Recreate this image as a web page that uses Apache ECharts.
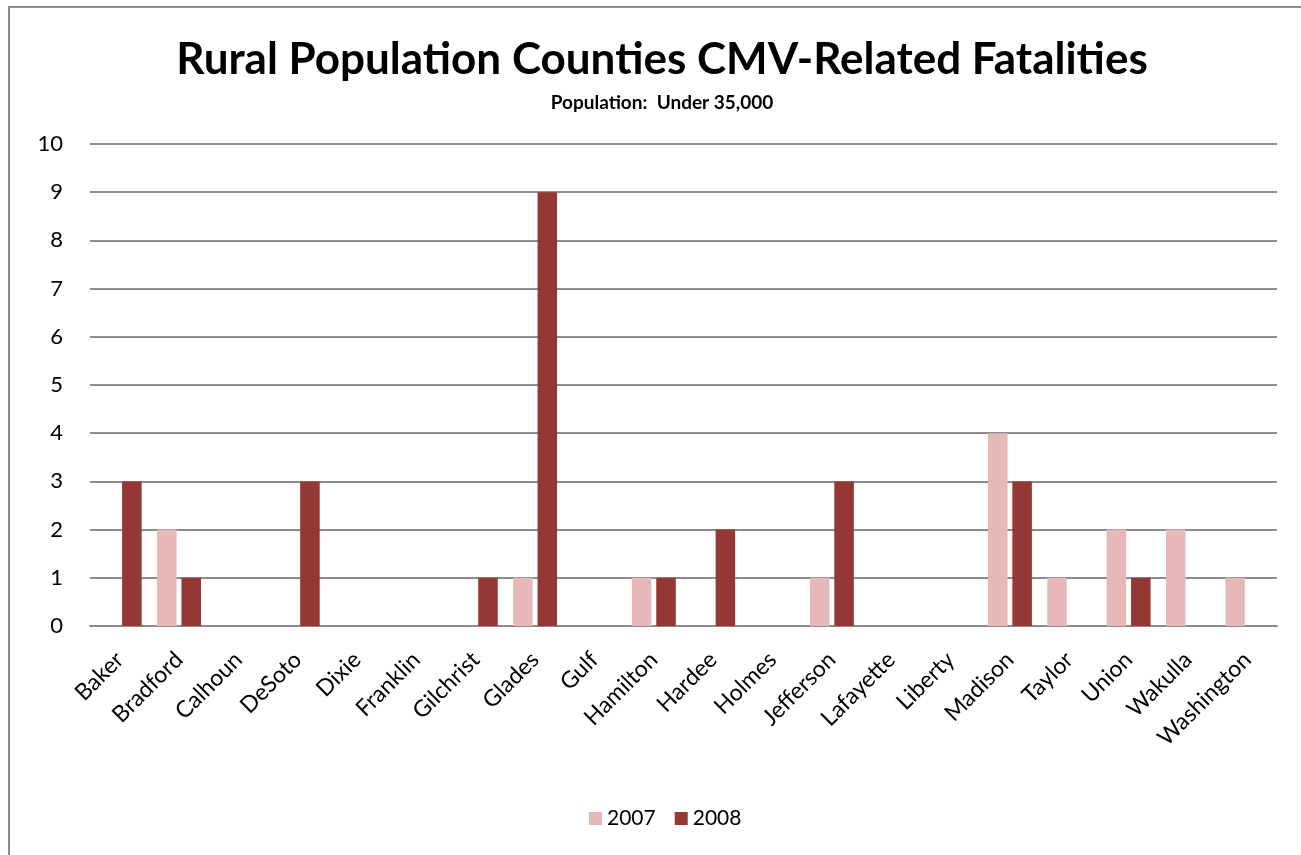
<!DOCTYPE html>
<html>
<head>
<meta charset="utf-8">
<script src="https://cdn.jsdelivr.net/npm/echarts@6/dist/echarts.min.js"></script>
<style>
  html, body { margin: 0; padding: 0; background: #fff; }
  #frame {
    position: absolute; left: 8px; top: 6px;
    width: 1400px; height: 900px;
    border: 2px solid #8c8c8c; box-sizing: border-box;
  }
  #chart { position: absolute; left: 0; top: 0; width: 1301px; height: 855px; }
</style>
</head>
<body>
<div id="frame"></div>
<div id="chart"></div>
<script>
const counties = ['Baker', 'Bradford', 'Calhoun', 'DeSoto', 'Dixie', 'Franklin', 'Gilchrist',
  'Glades', 'Gulf', 'Hamilton', 'Hardee', 'Holmes', 'Jefferson', 'Lafayette', 'Liberty',
  'Madison', 'Taylor', 'Union', 'Wakulla', 'Washington']
const fatalities2007 = [0, 2, 0, 0, 0, 0, 0, 1, 0, 1, 0, 0, 1, 0, 0, 4, 1, 2, 2, 1]
const fatalities2008 = [3, 1, 0, 3, 0, 0, 1, 9, 0, 1, 2, 0, 3, 0, 0, 3, 0, 1, 0, 0]

const FONT = 'Lato, "Open Sans", sans-serif'
const chart = echarts.init(document.getElementById('chart'))

chart.setOption({
  animation: false,
  title: [
    {
      text: 'Rural Population Counties CMV-Related Fatalities',
      left: 657, top: 33, textAlign: 'center',
      textStyle: { fontFamily: FONT, fontSize: 44, fontWeight: 'bold', color: '#000' }
    },
    {
      text: 'Population:  Under 35,000',
      left: 657, top: 88, textAlign: 'center',
      textStyle: { fontFamily: FONT, fontSize: 19, fontWeight: 'bold', color: '#000' }
    }
  ],
  legend: {
    bottom: 21, left: 584,
    itemWidth: 13, itemHeight: 13, itemGap: 19,
    icon: 'rect',
    textStyle: { fontFamily: FONT, fontSize: 21, color: '#000' }
  },
  grid: { left: 90, right: 24, top: 144, bottom: 229 },
  xAxis: {
    type: 'category',
    data: counties,
    axisLine: { show: true, lineStyle: { color: '#8c8c8c', width: 2 } },
    axisTick: { show: false },
    axisLabel: {
      rotate: 45, interval: 0, margin: 30,
      fontFamily: FONT, fontSize: 23, color: '#000'
    }
  },
  yAxis: {
    type: 'value', min: 0, max: 10, interval: 1,
    axisLine: { show: false },
    axisTick: { show: false },
    axisLabel: { margin: 27, fontFamily: FONT, fontSize: 22, color: '#000' },
    splitLine: { lineStyle: { color: '#8c8c8c', width: 2 } }
  },
  series: [
    {
      name: '2007', type: 'bar', data: fatalities2007,
      itemStyle: { color: '#E6B9B8' },
      barGap: '25%', barCategoryGap: '26%'
    },
    {
      name: '2008', type: 'bar', data: fatalities2008,
      itemStyle: { color: '#953735' },
      barGap: '25%', barCategoryGap: '26%'
    }
  ]
})
</script>
</body>
</html>
